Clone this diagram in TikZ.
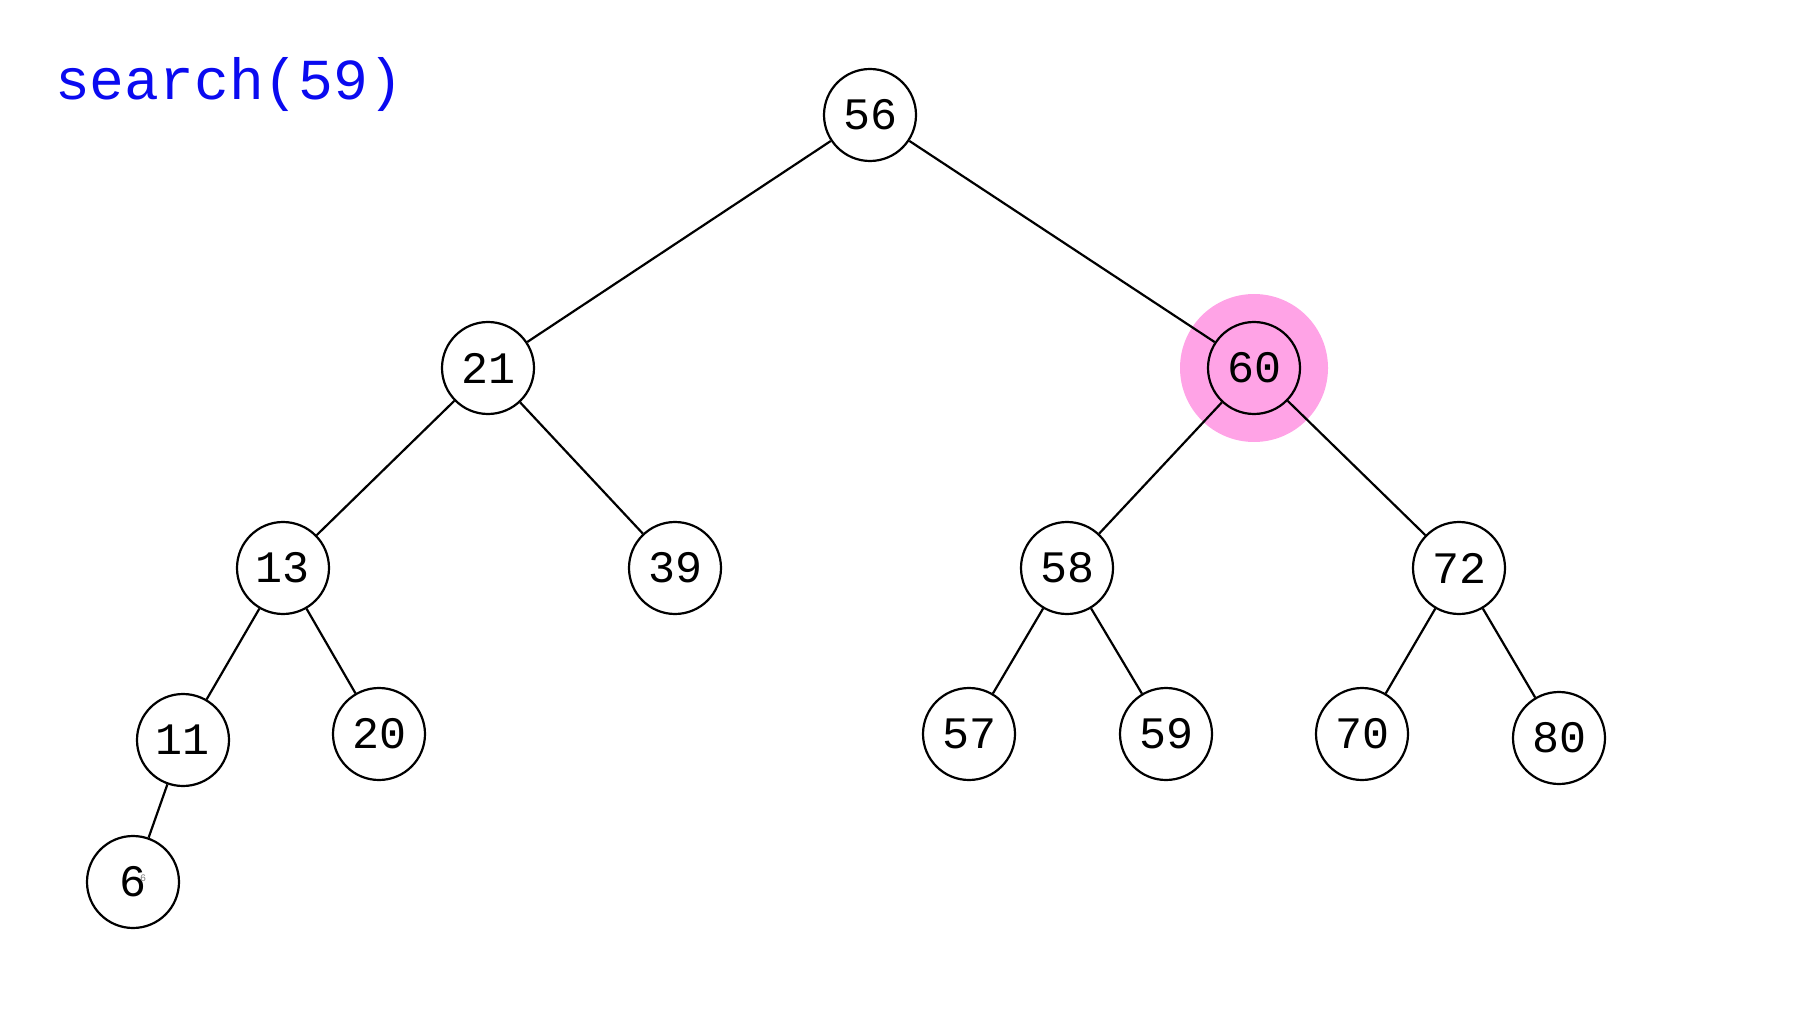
\documentclass[tikz,border=0pt]{standalone}
\usepackage{fontspec}
\setmonofont{Liberation Mono}
\definecolor{rose}{HTML}{FFA3E6}
\definecolor{bleu}{HTML}{0A0AF0}

\begin{document}
\begin{tikzpicture}[x=0.5pt, y=-0.5pt, line width=1.1pt,
  noeud/.style={circle, draw=black, fill=white, minimum size=46pt, inner sep=0pt,
    font=\ttfamily\fontsize{22.5}{22.5}\selectfont}]
\useasboundingbox (0,0) rectangle (1814,1021);
% titre
\node[anchor=base west, inner sep=0pt, text=bleu, font=\ttfamily\fontsize{29}{29}\selectfont] (titre) at (54,100) {search(59)};
% halo du noeud 60
\fill[rose] (1254,368) circle[radius=37pt];
% niveau 0 et 1
\node[noeud] (n56) at (870,115) {56};
\node[noeud] (n21) at (488,368) {21};
\node[noeud, fill=rose] (n60) at (1254,368) {60};
% niveau 2
\node[noeud] (n13) at (283,568) {13};
\node[noeud] (n39) at (675,568) {39};
\node[noeud] (n58) at (1067,568) {58};
\node[noeud] (n72) at (1459,568) {72};
% niveau 3
\node[noeud] (n11) at (183,740) {11};
\node[noeud] (n20) at (379,734) {20};
\node[noeud] (n57) at (969,734) {57};
\node[noeud] (n59) at (1166,734) {59};
\node[noeud] (n70) at (1362,734) {70};
\node[noeud] (n80) at (1559,738) {80};
% niveau 4
\node[noeud] (n6) at (133,882) {6};
\node[inner sep=0pt, text=gray, font=\ttfamily\fontsize{5}{5}\selectfont] (n6b) at (143,878) {6};
% aretes
\draw (n56) -- (n21);
\draw (n56) -- (n60);
\draw (n21) -- (n13);
\draw (n21) -- (n39);
\draw (n60) -- (n58);
\draw (n60) -- (n72);
\draw (n13) -- (n11);
\draw (n13) -- (n20);
\draw (n58) -- (n57);
\draw (n58) -- (n59);
\draw (n72) -- (n70);
\draw (n72) -- (n80);
\draw (n11) -- (n6);
\end{tikzpicture}
\end{document}
